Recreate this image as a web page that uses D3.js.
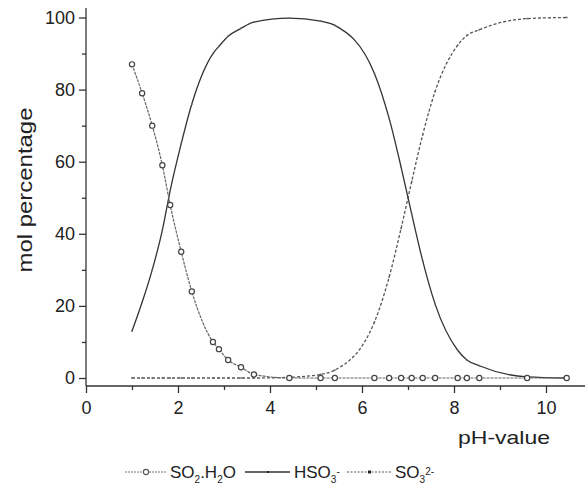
<!DOCTYPE html>
<html>
<head>
<meta charset="utf-8">
<script src="https://cdn.jsdelivr.net/npm/d3@7"></script>
<style>
  body { margin: 0; background: #fff; }
  svg { display: block; font-family: "Liberation Sans", Arial, sans-serif; }
  .axis text { font-size: 18px; fill: #222; }
  .axis line, .axis path { stroke: #333; stroke-width: 1.3; }
</style>
</head>
<body>
<svg width="585" height="486"></svg>
<script>
var svg = d3.select("svg"),
    width = +svg.attr("width"),
    height = +svg.attr("height");

// values
var pH = [1.00, 1.22, 1.44, 1.66, 1.83, 2.07, 2.30, 2.76, 2.89, 3.09, 3.37, 3.65, 4.42,
          5.10, 5.41, 6.27, 6.59, 6.85, 7.08, 7.32, 7.59, 8.08, 8.28, 8.55, 9.59, 10.45];
var so2 = [87, 79, 70, 59, 48, 35, 24, 10, 8, 5, 3, 1, 0,
           0, 0, 0, 0, 0, 0, 0, 0, 0, 0, 0, 0, 0];
var hso3 = [13, 21, 30, 41, 52, 65, 76, 90, 92, 94.8, 97, 98.7, 99.8,
            99, 97.8, 84.5, 72, 58.5, 45.5, 32.5, 20.5, 7.7, 5, 3.4, 0.3, 0];
var so3 = [0, 0, 0, 0, 0, 0, 0, 0, 0, 0, 0, 0, 0.2,
           1, 2.2, 15.5, 28, 41.5, 54.5, 67.5, 79.5, 92.3, 95, 96.6, 99.7, 100];

var xMajor = [0, 2, 4, 6, 8, 10],
    xMinor = [1, 3, 5, 7, 9];
var yMajor = [0, 20, 40, 60, 80, 100],
    yMinor = [10, 30, 50, 70, 90];

var x = d3.scaleLinear().domain([0, 10]).range([86, 546]);
var y = d3.scaleLinear().domain([0, 100]).range([378, 17.5]);
var axisY = 386, axisTop = 8;

// axes
var gx = svg.append("g").attr("class", "axis")
    .attr("transform", "translate(0," + axisY + ")")
    .call(d3.axisBottom(x).tickValues(xMajor).tickSize(7).tickPadding(6).tickFormat(d3.format("d")));
gx.select(".domain").remove();
gx.selectAll("text").attr("dy", "0.71em").attr("y", 15);
var gx2 = svg.append("g").attr("class", "axis")
    .attr("transform", "translate(0," + axisY + ")")
    .call(d3.axisBottom(x).tickValues(xMinor).tickSize(4).tickFormat(""));
gx2.select(".domain").remove();
svg.append("line").attr("x1", x(0)).attr("x2", width)
    .attr("y1", axisY).attr("y2", axisY)
    .attr("stroke", "#333").attr("stroke-width", 1.3);

var gy = svg.append("g").attr("class", "axis")
    .attr("transform", "translate(" + x(0) + ",0)")
    .call(d3.axisLeft(y).tickValues(yMajor).tickSize(7).tickPadding(4));
gy.select(".domain").remove();
var gy2 = svg.append("g").attr("class", "axis")
    .attr("transform", "translate(" + x(0) + ",0)")
    .call(d3.axisLeft(y).tickValues(yMinor).tickSize(4).tickFormat(""));
gy2.select(".domain").remove();
svg.append("line").attr("x1", x(0)).attr("x2", x(0))
    .attr("y1", axisTop).attr("y2", axisY)
    .attr("stroke", "#333").attr("stroke-width", 1.3);

// axis titles
svg.append("text")
    .attr("transform", "translate(32,190) rotate(-90)")
    .attr("text-anchor", "middle")
    .attr("font-size", 21)
    .attr("fill", "#222")
    .attr("textLength", 165).attr("lengthAdjust", "spacingAndGlyphs")
    .text("mol percentage");
svg.append("text")
    .attr("x", 458).attr("y", 444)
    .attr("font-size", 19)
    .attr("fill", "#222")
    .attr("textLength", 92).attr("lengthAdjust", "spacingAndGlyphs")
    .text("pH-value");

// lines
function series(vals) { return pH.map((p, i) => [p, vals[i]]); }
var line = d3.line().x(d => x(d[0])).y(d => y(d[1])).curve(d3.curveMonotoneX);

svg.append("path").datum(series(so3))
    .attr("d", line).attr("fill", "none")
    .attr("stroke", "#555").attr("stroke-width", 1.3)
    .attr("stroke-dasharray", "3,2");
svg.append("path").datum(series(hso3))
    .attr("d", line).attr("fill", "none")
    .attr("stroke", "#333").attr("stroke-width", 1.3);
svg.append("path").datum(series(so2))
    .attr("d", line).attr("fill", "none")
    .attr("stroke", "#666").attr("stroke-width", 1.2)
    .attr("stroke-dasharray", "3,1");

// tiny square markers
[hso3, so3].forEach(function(vals) {
  svg.append("g").selectAll("rect")
    .data(series(vals))
    .enter().append("rect")
      .attr("x", d => x(d[0]) - 0.8).attr("y", d => y(d[1]) - 0.8)
      .attr("width", 1.6).attr("height", 1.6)
      .attr("fill", "#666");
});
svg.append("g").selectAll("circle")
  .data(series(so2))
  .enter().append("circle")
    .attr("cx", d => x(d[0])).attr("cy", d => y(d[1]))
    .attr("r", 2.6)
    .attr("fill", "#fff").attr("stroke", "#444").attr("stroke-width", 1.2);

// legend
var ly = 472;
var leg = svg.append("g");
leg.append("line").attr("x1", 125).attr("x2", 167).attr("y1", ly).attr("y2", ly)
    .attr("stroke", "#777").attr("stroke-width", 1.1).attr("stroke-dasharray", "2,1");
leg.append("circle").attr("cx", 146).attr("cy", ly).attr("r", 2.6)
    .attr("fill", "#fff").attr("stroke", "#555").attr("stroke-width", 1.1);
leg.append("line").attr("x1", 245).attr("x2", 290).attr("y1", ly).attr("y2", ly)
    .attr("stroke", "#333").attr("stroke-width", 1.3);
leg.append("rect").attr("x", 267).attr("y", ly - 1).attr("width", 2).attr("height", 2).attr("fill", "#222");
leg.append("line").attr("x1", 347).attr("x2", 392).attr("y1", ly).attr("y2", ly)
    .attr("stroke", "#555").attr("stroke-width", 1.2).attr("stroke-dasharray", "2,1.5");
leg.append("rect").attr("x", 368).attr("y", ly - 1.5).attr("width", 3).attr("height", 3).attr("fill", "#222");

function legText(xp, parts) {
  var t = leg.append("text").attr("x", xp).attr("y", 478)
      .attr("font-size", 17).attr("fill", "#222");
  parts.forEach(function(p) {
    var s = t.append("tspan").text(p[0]);
    if (p[1] === "sub") s.attr("font-size", 10).attr("dy", 5);
    else if (p[1] === "sup") s.attr("font-size", 10).attr("dy", -8);
    else if (p[1] === "back") s.attr("dy", -5);
  });
}
legText(170, [["SO"], ["2", "sub"], [".H", "back"], ["2", "sub"], ["O", "back"]]);
legText(294, [["HSO"], ["3", "sub"], ["-", "sup"]]);
legText(395, [["SO"], ["3", "sub"], ["2-", "sup"]]);
</script>
</body>
</html>
